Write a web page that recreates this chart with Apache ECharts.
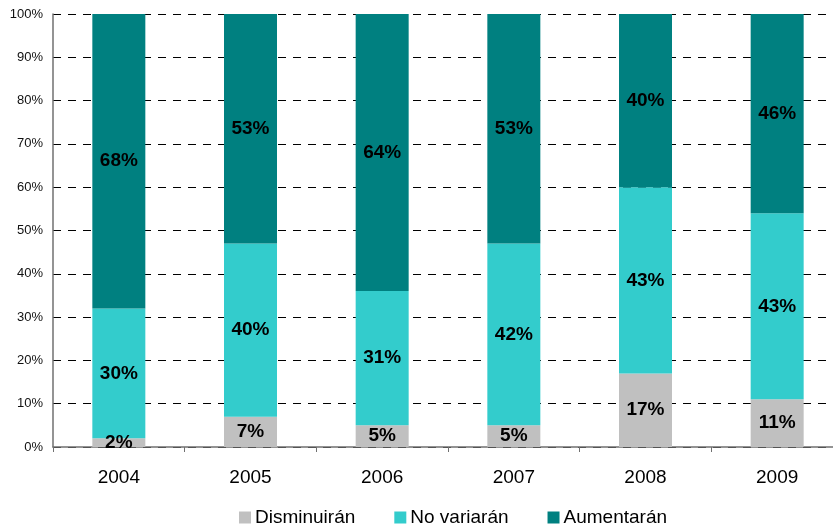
<!DOCTYPE html>
<html><head><meta charset="utf-8">
<script src="https://cdn.jsdelivr.net/npm/echarts@6/dist/echarts.min.js"></script>
<style>html,body{margin:0;padding:0;background:#fff;overflow:hidden;width:833px;height:527px}#c{width:843px;height:527px}</style>
</head><body><div id="c"></div>
<script>
var categories = ['2004','2005','2006','2007','2008','2009'];
var disminuiran = [2, 7, 5, 5, 17, 11];
var noVariaran = [30, 40, 31, 42, 43, 43];
var aumentaran = [68, 53, 64, 53, 40, 46];
var seriesNames = ['Disminuirán', 'No variarán', 'Aumentarán'];
var colors = ['#C0C0C0', '#33CCCC', '#008080'];

var chart = echarts.init(document.getElementById('c'));
var FF = 'Liberation Sans, Arial, sans-serif';
var lbl = {show:true, position:'inside', formatter:'{c}%', color:'#000', fontWeight:'bold', fontSize:19, fontFamily:FF};
function mk(name, data, color){
  return {name:name, type:'bar', stack:'t', data:data, barWidth:53, itemStyle:{color:color}, label:lbl};
}
chart.setOption({
  animation:false,
  textStyle:{fontFamily:FF},
  grid:{left:53, right:0, top:14, bottom:80, containLabel:false},
  legend:{bottom:-5, left:234, itemWidth:12, itemHeight:12, itemGap:39, icon:'rect',
    textStyle:{fontSize:19, color:'#000', fontFamily:FF, padding:[0,0,0,-1]},
    data:seriesNames},
  xAxis:{type:'category', data:categories,
    axisLine:{lineStyle:{color:'#707070', width:1.5}},
    axisTick:{show:true, length:5, lineStyle:{color:'#707070'}},
    axisLabel:{fontSize:19, color:'#000', margin:21}},
  yAxis:{type:'value', min:0, max:100, interval:10,
    axisLine:{show:true, lineStyle:{color:'#707070', width:1.5}},
    axisTick:{show:false},
    axisLabel:{formatter:'{value}%', fontSize:13, color:'#111', margin:10},
    splitLine:{show:true, lineStyle:{color:'#000', type:[8,7], width:1}}},
  series:[mk(seriesNames[0], disminuiran, colors[0]), mk(seriesNames[1], noVariaran, colors[1]), mk(seriesNames[2], aumentaran, colors[2])]
});
</script></body></html>
